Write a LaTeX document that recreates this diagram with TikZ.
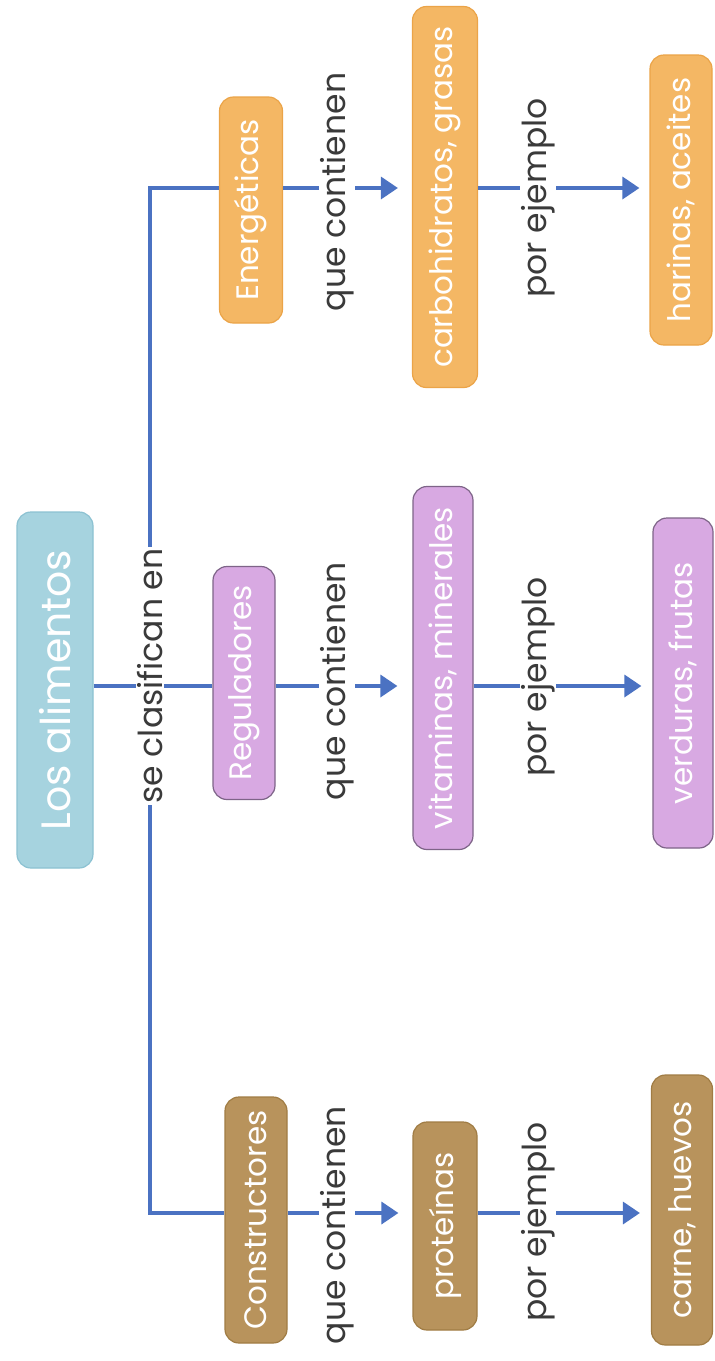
\documentclass[tikz,border=0pt]{standalone}
\usepackage{fontspec}
\setmainfont{Poppins}
\usetikzlibrary{arrows.meta}
\definecolor{lineblue}{HTML}{4B72C2}
\definecolor{txtgray}{HTML}{3A3A3A}
\definecolor{cblue}{HTML}{A6D3DF}
\definecolor{cblueb}{HTML}{8CC2D2}
\definecolor{corange}{HTML}{F4B764}
\definecolor{coranged}{HTML}{EBA448}
\definecolor{cpurple}{HTML}{D8A9E2}
\definecolor{cpurpled}{HTML}{7E6488}
\definecolor{cbrown}{HTML}{B8935C}
\definecolor{cbrownd}{HTML}{A07C44}
\begin{document}
\begin{tikzpicture}[x=1pt,y=-1pt,
  box/.style={rotate=90, rounded corners=14pt, inner sep=0pt, text=white,
    font=\fontsize{31}{31}\selectfont, line width=1.2pt},
  ebox/.style={box, fill=corange, draw=coranged},
  rbox/.style={box, fill=cpurple, draw=cpurpled},
  cbox/.style={box, fill=cbrown, draw=cbrownd},
  lab/.style={rotate=90, fill=white, inner sep=1.5pt, text=txtgray,
    font=\fontsize{33}{33}\selectfont},
  conn/.style={draw=lineblue, line width=3.5pt},
  arr/.style={conn, -{Triangle[length=17pt,width=22pt]}}]
\useasboundingbox (0,0) rectangle (715,1361);
\fill[white] (0,0) rectangle (715,1361);
% nodes
\node[box, fill=cblue, draw=cblueb, minimum width=356pt, minimum height=76pt,
  font=\fontsize{41}{41}\selectfont] (los) at (55,690) {Los alimentos};
\node[ebox, minimum width=226pt, minimum height=63pt] (ener) at (251,210) {Energéticas};
\node[ebox, minimum width=381pt, minimum height=65pt] (carb) at (445,197) {carbohidratos, grasas};
\node[ebox, minimum width=290pt, minimum height=62pt] (har) at (681,200) {harinas, aceites};
\node[rbox, minimum width=233pt, minimum height=62pt] (reg) at (244,683) {Reguladores};
\node[rbox, minimum width=363pt, minimum height=60pt] (vit) at (443,668) {vitaminas, minerales};
\node[rbox, minimum width=330pt, minimum height=60pt] (ver) at (683,683) {verduras, frutas};
\node[cbox, minimum width=246pt, minimum height=62pt] (con) at (256,1220) {Constructores};
\node[cbox, minimum width=208pt, minimum height=64pt] (pro) at (445,1226) {proteínas};
\node[cbox, minimum width=270pt, minimum height=61pt] (car) at (682,1210) {carne, huevos};
% trunk
\coordinate (tE) at (150,188);
\coordinate (tR) at (150,686);
\coordinate (tC) at (150,1213);
\draw[conn, line join=miter] (ener.north |- tE) -- (tE) -- (tC) -- (con.north |- tC);
\draw[conn] (los.south |- tR) -- (reg.north |- tR);
% branches
\draw[arr, shorten >=14pt] (ener.south |- tE) -- (carb.north |- tE);
\draw[arr, shorten >=10pt] (carb.south |- tE) -- (har.north |- tE);
\draw[arr, shorten >=15pt] (reg.south |- tR) -- (vit.north |- tR);
\draw[arr, shorten >=11pt] (vit.south |- tR) -- (ver.north |- tR);
\draw[arr, shorten >=14pt] (con.south |- tC) -- (pro.north |- tC);
\draw[arr, shorten >=11pt] (pro.south |- tC) -- (car.north |- tC);
% labels
\node[lab] (lcl) at (150,676) {se clasifican en};
\node[lab] (lqE) at (337,192) {que contienen};
\node[lab] (lqR) at (337,681) {que contienen};
\node[lab] (lqC) at (337,1225) {que contienen};
\node[lab] (lpE) at (538,198) {por ejemplo};
\node[lab] (lpR) at (538,677) {por ejemplo};
\node[lab] (lpC) at (538,1222) {por ejemplo};
\end{tikzpicture}
\end{document}
